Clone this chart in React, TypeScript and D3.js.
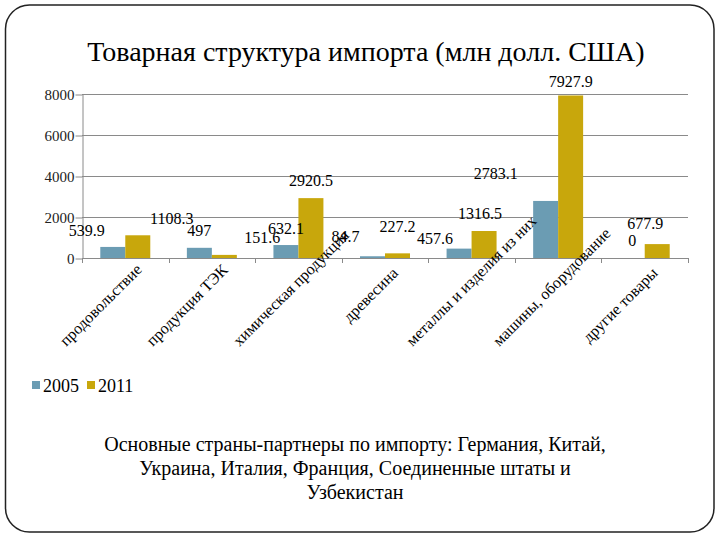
import React, { useEffect, useRef } from "react";
import * as d3 from "d3";

const categories = [
  "продовольствие",
  "продукция ТЭК",
  "химическая продукция",
  "древесина",
  "металлы и изделия из них",
  "машины, оборудование",
  "другие товары",
];

const years = ["2005", "2011"];
const values2005 = [539.9, 497, 632.1, 84.7, 457.6, 2783.1, 0];
const values2011 = [1108.3, 151.6, 2920.5, 227.2, 1316.5, 7927.9, 677.9];
const yTicks = [0, 2000, 4000, 6000, 8000];

// label nudges (px) relative to the top of each bar, as they sit in the original slide
const nudge2005 = [[-26, 0], [0, -1], [0, 0], [-27, -3], [-24, 6], [-50, -11], [0, -1]];
const nudge2011 = [[34, 0], [38, -1], [0, -1], [0, -10], [-4, -1], [0, 3], [-12, -4]];

const COLORS: Record<string, string> = {
  "2005": "#6b9cb3",
  "2011": "#c8a70c",
};

const FONT = "'Liberation Serif', 'Times New Roman', 'DejaVu Serif', serif";

const noteLines = [
  "Основные страны-партнеры по импорту: Германия, Китай,",
  "Украина, Италия, Франция, Соединенные штаты и",
  "Узбекистан",
];

export default function App() {
  const svgRef = useRef<SVGSVGElement>(null);

  useEffect(() => {
    if (!svgRef.current) return;
    const svg = d3.select(svgRef.current);
    svg.selectAll("*").remove();

    const plot = { left: 82, right: 688, top: 94, bottom: 258 };

    // slide frame
    svg
      .append("rect")
      .attr("x", 5.5)
      .attr("y", 5)
      .attr("width", 708.5)
      .attr("height", 527)
      .attr("rx", 24)
      .attr("fill", "#fff")
      .attr("stroke", "#222")
      .attr("stroke-width", 1.5);

    // title
    svg
      .append("text")
      .attr("x", 366)
      .attr("y", 61)
      .attr("text-anchor", "middle")
      .style("font-family", FONT)
      .style("font-size", "28px")
      .attr("fill", "#000")
      .text("Товарная структура импорта (млн долл. США)");

    const x = d3
      .scaleBand<string>()
      .domain(categories)
      .range([plot.left, plot.right])
      .padding(0);

    const xInner = d3
      .scaleBand<string>()
      .domain(years)
      .range([0, x.bandwidth()])
      .paddingInner(0)
      .paddingOuter(0.732);

    const y = d3
      .scaleLinear()
      .domain([0, 8000])
      .range([plot.bottom, plot.top]);

    // grid lines
    svg
      .append("g")
      .selectAll("line")
      .data(yTicks.filter((t) => t > 0))
      .enter()
      .append("line")
      .attr("x1", plot.left)
      .attr("x2", plot.right)
      .attr("y1", (d) => Math.round(y(d)) + 0.5)
      .attr("y2", (d) => Math.round(y(d)) + 0.5)
      .attr("stroke", "#8a8a8a")
      .attr("stroke-width", 1);

    // y axis
    const yAxis = svg
      .append("g")
      .attr("transform", `translate(${plot.left + 0.5},0.5)`)
      .call(
        d3
          .axisLeft(y)
          .tickValues(yTicks)
          .tickFormat(d3.format("d"))
          .tickSize(7)
          .tickSizeOuter(0)
          .tickPadding(1)
      );
    yAxis.attr("font-family", null).attr("font-size", null);
    yAxis.select(".domain").attr("stroke", "#8a8a8a");
    yAxis.selectAll("line").attr("stroke", "#8a8a8a");
    yAxis
      .selectAll("text")
      .style("font-family", FONT)
      .style("font-size", "15px")
      .attr("fill", "#222");

    // bars
    const series = [
      { year: "2005", values: values2005, nudge: nudge2005 },
      { year: "2011", values: values2011, nudge: nudge2011 },
    ];

    series.forEach((s) => {
      svg
        .append("g")
        .selectAll("rect")
        .data(s.values)
        .enter()
        .append("rect")
        .attr("x", (_, i) => x(categories[i])! + xInner(s.year)!)
        .attr("y", (d) => y(d))
        .attr("width", xInner.bandwidth())
        .attr("height", (d) => y(0) - y(d))
        .attr("fill", COLORS[s.year]);
    });

    // x axis
    const xAxisG = svg.append("g");
    xAxisG
      .append("line")
      .attr("x1", plot.left)
      .attr("x2", plot.right)
      .attr("y1", plot.bottom + 0.5)
      .attr("y2", plot.bottom + 0.5)
      .attr("stroke", "#8a8a8a");
    const boundaries = categories.map((c) => x(c)!).concat([plot.right]);
    xAxisG
      .selectAll("line.tick")
      .data(boundaries)
      .enter()
      .append("line")
      .attr("class", "tick")
      .attr("x1", (d) => Math.round(d) + 0.5)
      .attr("x2", (d) => Math.round(d) + 0.5)
      .attr("y1", plot.bottom)
      .attr("y2", plot.bottom + 5)
      .attr("stroke", "#8a8a8a");

    // category labels, rotated -45, pushed up when too long
    const maxBottom = 347;
    categories.forEach((c) => {
      const cx = x(c)! + x.bandwidth() / 2;
      const t = svg
        .append("text")
        .style("font-family", FONT)
        .style("font-size", "16px")
        .attr("fill", "#000")
        .attr("text-anchor", "end")
        .text(c);
      const L = (t.node() as SVGTextElement).getComputedTextLength();
      let ex = cx + 14;
      let ey = plot.bottom + 16;
      const startY = ey + L * Math.SQRT1_2;
      if (startY > maxBottom) {
        const d = startY - maxBottom;
        ex += d;
        ey -= d;
      }
      t.attr("transform", `translate(${ex},${ey}) rotate(-45)`);
    });

    // value labels
    series.forEach((s) => {
      svg
        .append("g")
        .selectAll("text")
        .data(s.values)
        .enter()
        .append("text")
        .attr("x", (_, i) => x(categories[i])! + xInner(s.year)! + xInner.bandwidth() / 2 + s.nudge[i][0])
        .attr("y", (d, i) => y(d) - 11 + s.nudge[i][1])
        .attr("text-anchor", "middle")
        .style("font-family", FONT)
        .style("font-size", "16px")
        .attr("fill", "#000")
        .text((d) => String(d));
    });

    // legend
    const legend = svg.append("g").attr("transform", "translate(32,381)");
    let lx = 0;
    years.forEach((yr) => {
      legend
        .append("rect")
        .attr("x", lx)
        .attr("y", 0)
        .attr("width", 8)
        .attr("height", 8)
        .attr("fill", COLORS[yr]);
      const t = legend
        .append("text")
        .attr("x", lx + 11)
        .attr("y", 11)
        .style("font-family", FONT)
        .style("font-size", "18px")
        .attr("fill", "#000")
        .text(yr);
      lx += 11 + (t.node() as SVGTextElement).getComputedTextLength() + 8;
    });

    // note under the chart
    svg
      .append("g")
      .selectAll("text")
      .data(noteLines)
      .enter()
      .append("text")
      .attr("x", 355)
      .attr("y", (_, i) => 451 + i * 24)
      .attr("text-anchor", "middle")
      .style("font-family", FONT)
      .style("font-size", "20px")
      .attr("fill", "#000")
      .text((d) => d);
  }, []);

  return (
    <svg
      ref={svgRef}
      width={720}
      height={540}
      style={{ position: "absolute", left: 0, top: 0, background: "#fff" }}
    />
  );
}
